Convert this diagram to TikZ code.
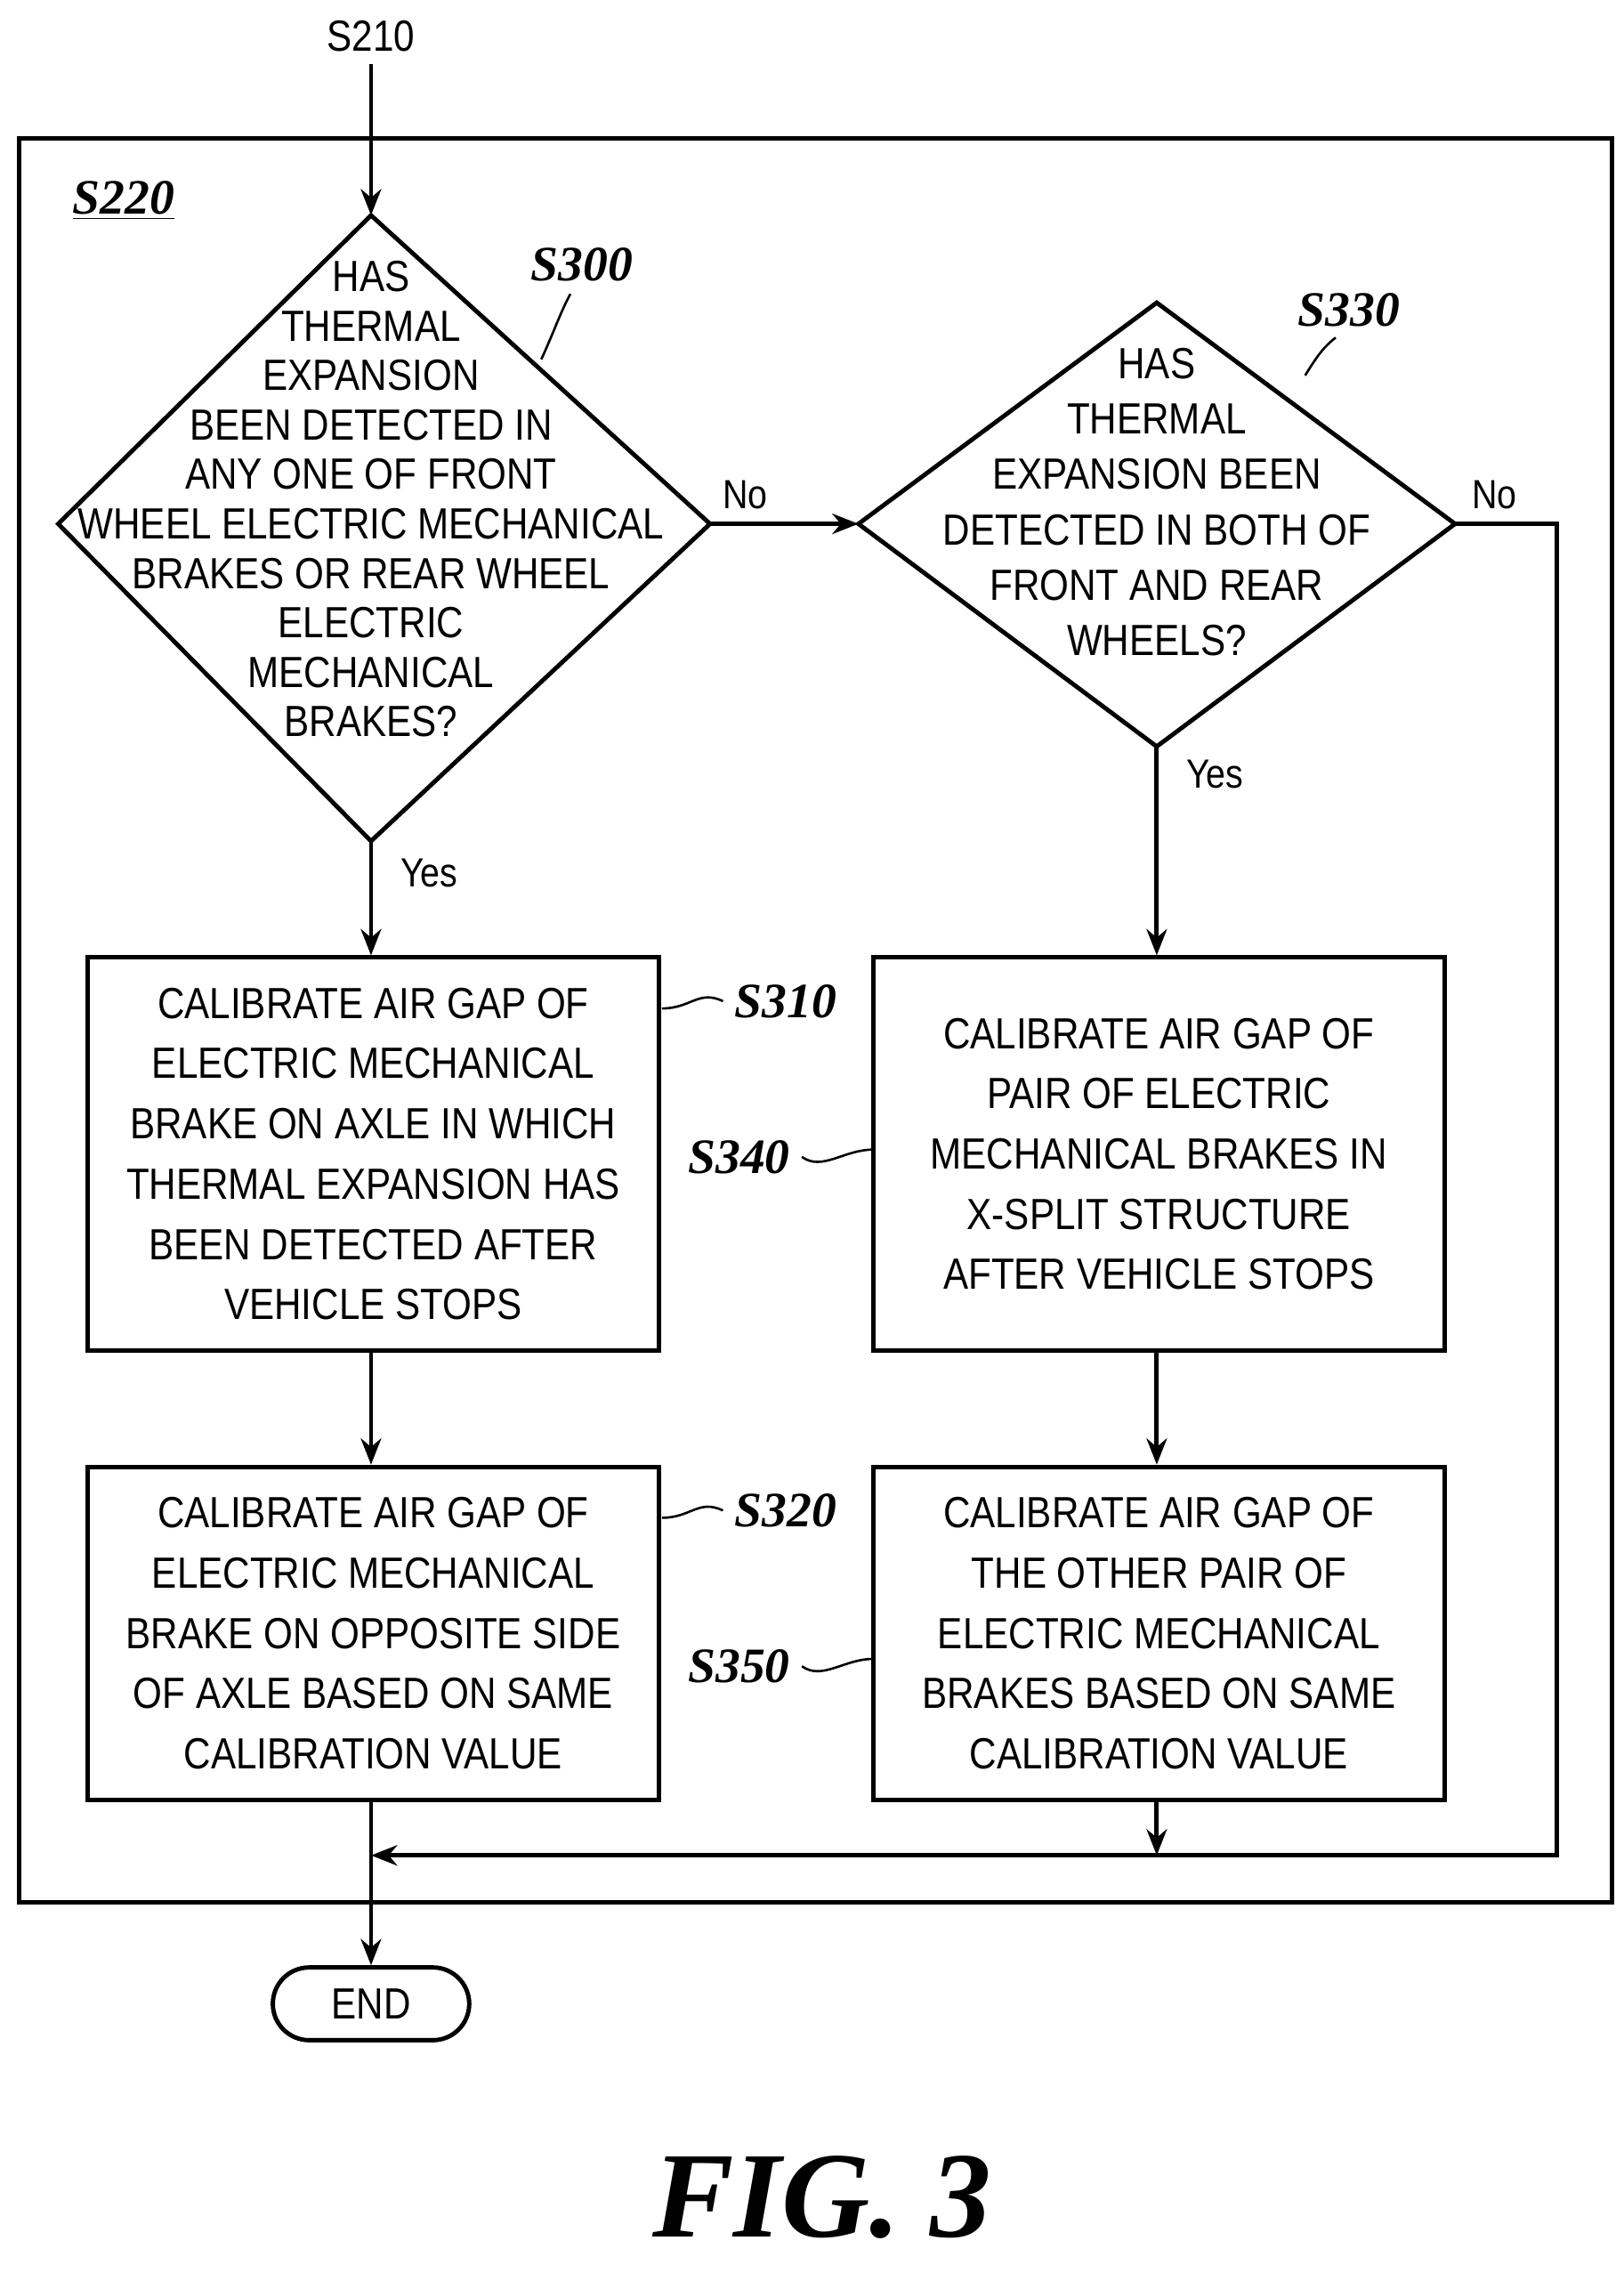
\documentclass[tikz,border=0pt]{standalone}
\usepackage{fontspec}
\setsansfont[FakeStretch=0.86]{Liberation Sans}
\newfontfamily\labfont{Liberation Serif}
\usetikzlibrary{shapes.geometric,arrows.meta}
\begin{document}
\begin{tikzpicture}[x=0.5pt,y=-0.5pt,
  line width=1.5pt,
  txt/.style={font=\sffamily\fontsize{15}{17}\selectfont,align=center},
  box/.style={draw,txt,font=\sffamily\fontsize{15}{20.7}\selectfont},
  lab/.style={font=\labfont\itshape\bfseries\fontsize{17}{20}\selectfont},
  yn/.style={font=\sffamily\fontsize{14}{16}\selectfont},
  arr/.style={-{Stealth[length=9pt,width=7pt]}},
  lead/.style={line width=0.8pt}]
\useasboundingbox (0,0) rectangle (1116,1562);
\draw (13,95) rectangle (1108,1307);
\node[txt] (s210) at (255,25) {S210};
\node[lab] (s220) at (85,138) {\underline{S220}};
% diamond1
\coordinate (d1t) at (255,148); \coordinate (d1b) at (255,578);
\coordinate (d1l) at (40,360); \coordinate (d1r) at (488,360);
\draw (d1t)--(d1r)--(d1b)--(d1l)--cycle;
\node[txt] (t1) at (255,343) {HAS\\THERMAL\\EXPANSION\\BEEN DETECTED IN\\ANY ONE OF FRONT\\WHEEL ELECTRIC MECHANICAL\\BRAKES OR REAR WHEEL\\ELECTRIC\\MECHANICAL\\BRAKES?};
% diamond2
\coordinate (d2t) at (795,208); \coordinate (d2b) at (795,513);
\coordinate (d2l) at (590,360); \coordinate (d2r) at (1000,360);
\draw (d2t)--(d2r)--(d2b)--(d2l)--cycle;
\node[txt,font=\sffamily\fontsize{15}{19}\selectfont] (t2) at (795,345) {HAS\\THERMAL\\EXPANSION BEEN\\DETECTED IN BOTH OF\\FRONT AND REAR\\WHEELS?};
\draw[arr] (s210) -- (d1t);
\draw[arr] (d1r) -- (d2l);
\node[yn] (no1) at (512,340) {No};
\node[yn] (no2) at (1027,340) {No};
\node[yn] (yes1) at (295,600) {Yes};
\node[yn] (yes2) at (835,532) {Yes};
% boxes
\node[box,minimum width=196.5pt,minimum height=135pt] (b1) at (256.5,793) {CALIBRATE AIR GAP OF\\ELECTRIC MECHANICAL\\BRAKE ON AXLE IN WHICH\\THERMAL EXPANSION HAS\\BEEN DETECTED AFTER\\VEHICLE STOPS};
\node[box,minimum width=196.5pt,minimum height=135pt] (b2) at (796.5,793) {CALIBRATE AIR GAP OF\\PAIR OF ELECTRIC\\MECHANICAL BRAKES IN\\X-SPLIT STRUCTURE\\AFTER VEHICLE STOPS};
\node[box,minimum width=196.5pt,minimum height=114.5pt] (b3) at (256.5,1122.5) {CALIBRATE AIR GAP OF\\ELECTRIC MECHANICAL\\BRAKE ON OPPOSITE SIDE\\OF AXLE BASED ON SAME\\CALIBRATION VALUE};
\node[box,minimum width=196.5pt,minimum height=114.5pt] (b4) at (796.5,1122.5) {CALIBRATE AIR GAP OF\\THE OTHER PAIR OF\\ELECTRIC MECHANICAL\\BRAKES BASED ON SAME\\CALIBRATION VALUE};
\draw[arr] (d1b) -- (b1.north -| d1b);
\draw[arr] (d2b) -- (b2.north -| d2b);
\draw[arr] (b1.south -| d1b) -- (b3.north -| d1b);
\draw[arr] (b2.south -| d2b) -- (b4.north -| d2b);
\coordinate (j1) at (795,1275); \coordinate (j2) at (255,1275);
\coordinate (r1) at (1070,360); \coordinate (r2) at (1070,1275);
\draw[arr] (b4.south -| d2b) -- (j1);
\draw[arr] (d2r) -- (r1) -- (r2) -- (j2);
\node[draw,rounded corners=12.5pt,minimum width=67.5pt,minimum height=25pt,txt] (end) at (255,1377) {END};
\draw[arr] (b3.south -| d1b) -- (end.north);
% labels
\node[lab] (l300) at (400,182) {S300};
\node[lab] (l330) at (927,213) {S330};
\node[lab] (l310) at (540,688) {S310};
\node[lab] (l340) at (508,795) {S340};
\node[lab] (l320) at (540,1038) {S320};
\node[lab] (l350) at (508,1145) {S350};
\coordinate (p300) at (372,247); \coordinate (q300) at (392,202);
\coordinate (p330) at (897,258); \coordinate (q330) at (918,232);
\draw[lead] (p300) .. controls (382,225) and (385,215) .. (q300);
\draw[lead] (p330) .. controls (905,245) and (910,238) .. (q330);
\draw[lead] (455,693) .. controls (475,693) and (480,680) .. (l310.west);
\draw[lead] (455,1043) .. controls (475,1043) and (480,1030) .. (l320.west);
\draw[lead] (l340.east) .. controls (565,805) and (580,790) .. (600,790);
\draw[lead] (l350.east) .. controls (565,1155) and (580,1140) .. (600,1140);
\node[font=\labfont\itshape\bfseries\fontsize{42}{46}\selectfont] (fig) at (565,1510) {FIG. 3};
\end{tikzpicture}
\end{document}
